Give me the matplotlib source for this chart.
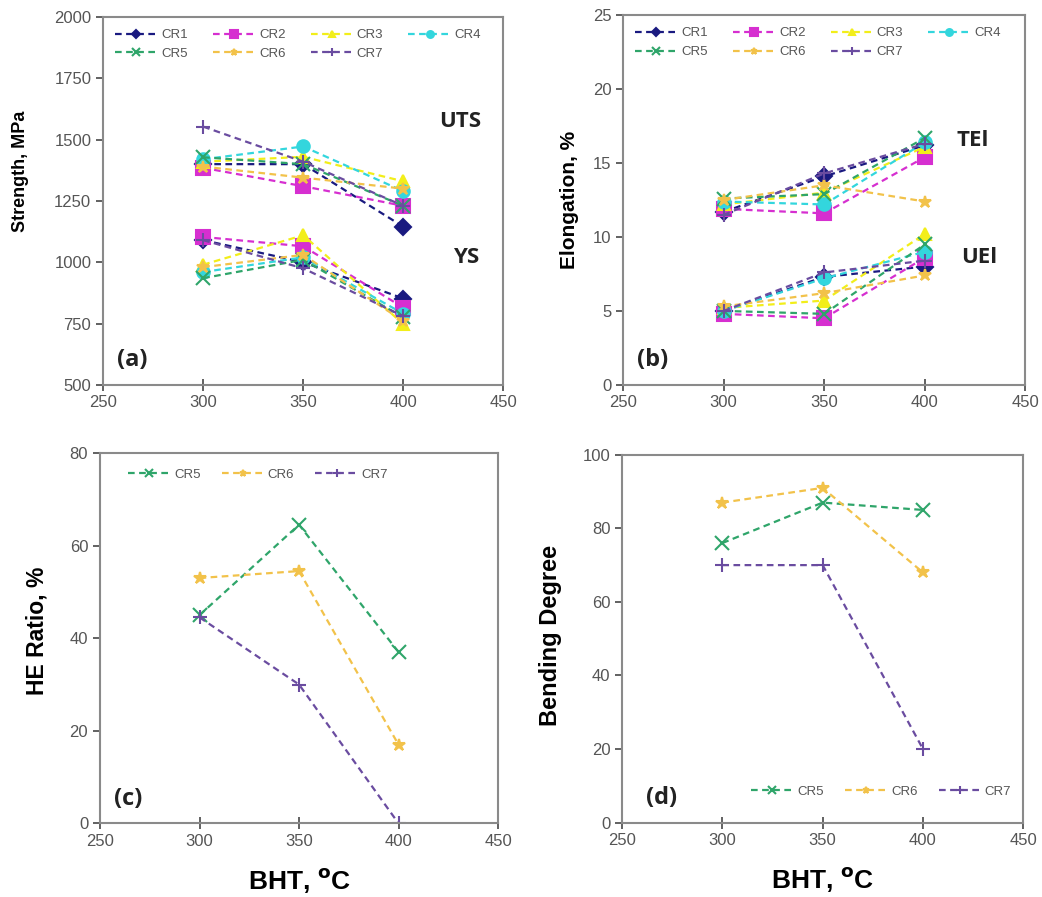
import matplotlib
matplotlib.use("Agg")
import matplotlib.pyplot as plt
import numpy as np

plt.rcParams['font.family'] = ['Liberation Sans', 'DejaVu Sans']

# data ---------------------------------------------------------
bht = [300, 350, 400]
names = ['CR1', 'CR2', 'CR3', 'CR4', 'CR5', 'CR6', 'CR7']

uts = {'CR1': [1400, 1400, 1145],
       'CR2': [1385, 1310, 1230],
       'CR3': [1410, 1430, 1330],
       'CR4': [1420, 1472, 1290],
       'CR5': [1428, 1400, 1230],
       'CR6': [1390, 1345, 1300],
       'CR7': [1553, 1410, 1230]}
ys = {'CR1': [1090, 1000, 852],
      'CR2': [1103, 1065, 815],
      'CR3': [990, 1110, 748],
      'CR4': [960, 1020, 790],
      'CR5': [935, 1010, 775],
      'CR6': [980, 1030, 760],
      'CR7': [1090, 975, 780]}
tel = {'CR1': [11.7, 14.1, 16.2],
       'CR2': [11.9, 11.6, 15.4],
       'CR3': [12.2, 13.0, 16.1],
       'CR4': [12.4, 12.2, 16.4],
       'CR5': [12.6, 12.9, 16.7],
       'CR6': [12.5, 13.5, 12.4],
       'CR7': [11.5, 14.3, 16.3]}
uel = {'CR1': [5.0, 7.3, 8.0],
       'CR2': [4.8, 4.5, 8.6],
       'CR3': [5.2, 5.7, 10.2],
       'CR4': [5.0, 7.2, 9.0],
       'CR5': [5.0, 4.8, 9.5],
       'CR6': [5.3, 6.2, 7.4],
       'CR7': [5.0, 7.6, 8.4]}
he = {'CR5': [45, 64.5, 37],
      'CR6': [53, 54.5, 17],
      'CR7': [44.5, 30, 0]}
bend = {'CR5': [76, 87, 85],
        'CR6': [87, 91, 68],
        'CR7': [70, 70, 20]}

# styles -------------------------------------------------------
colors = {'CR1': '#1a1a80', 'CR2': '#d62fd0', 'CR3': '#f2ee1a', 'CR4': '#33d6dd',
          'CR5': '#2fa56a', 'CR6': '#f2c24a', 'CR7': '#6a4ca0'}
markers = {'CR1': 'D', 'CR2': 's', 'CR3': '^', 'CR4': 'o',
           'CR5': 'x', 'CR6': '*', 'CR7': '+'}
msize = {'CR1': 8, 'CR2': 10, 'CR3': 9, 'CR4': 9, 'CR5': 10, 'CR6': 9, 'CR7': 10}
tick_col = '#555555'
spine_col = '#8a8a8a'
bold_fam = ['Open Sans', 'DejaVu Sans']

fig = plt.figure(figsize=(10.42, 8.97), dpi=100)
ax_a = fig.add_axes([0.099, 0.571, 0.384, 0.410])
ax_b = fig.add_axes([0.598, 0.571, 0.386, 0.412])
ax_c = fig.add_axes([0.096, 0.082, 0.382, 0.413])
ax_d = fig.add_axes([0.597, 0.083, 0.385, 0.410])


def draw(ax, data, keys, label=True):
    for k in keys:
        ax.plot(bht, data[k], color=colors[k], linestyle='--', linewidth=1.6,
                dashes=(3, 2), marker=markers[k], markersize=msize[k],
                markerfacecolor=colors[k], markeredgecolor=colors[k],
                markeredgewidth=1.5, label=k if label else None)


def style(ax, ylim, yticks, ylabel, lsize):
    ax.set_xlim(250, 450)
    ax.set_xticks([250, 300, 350, 400, 450])
    ax.set_ylim(*ylim)
    ax.set_yticks(yticks)
    for s in ax.spines.values():
        s.set_color(spine_col)
        s.set_linewidth(1.5)
    ax.tick_params(colors=tick_col, labelsize=12, length=5, width=1.3,
                   direction='out')
    ax.tick_params(axis='x', direction='inout', length=8)
    ax.set_ylabel(ylabel, fontsize=lsize, fontweight='bold', labelpad=10)


def legend_rows(ax, ncol, **kw):
    # reorder so the legend fills row by row like the original
    h, l = ax.get_legend_handles_labels()
    n = len(h)
    nrow = -(-n // ncol)
    order = []
    for c in range(ncol):
        for r in range(nrow):
            i = r * ncol + c
            if i < n:
                order.append(i)
    ax.legend([h[i] for i in order], [l[i] for i in order], ncol=ncol,
              frameon=False, fontsize=9.5, handlelength=3.2, handletextpad=0.3,
              labelcolor=tick_col, markerscale=0.55, **kw)


# (a) strength
draw(ax_a, uts, names)
draw(ax_a, ys, names, label=False)
style(ax_a, (500, 2000), [500, 750, 1000, 1250, 1500, 1750, 2000], 'Strength, MPa', 13)
ax_a.yaxis.set_label_coords(-0.185, 0.58)
legend_rows(ax_a, 4, loc='upper left', bbox_to_anchor=(0.0, 1.0), columnspacing=1.9)
ax_a.text(0.84, 0.70, 'UTS', transform=ax_a.transAxes, fontsize=16,
          fontweight='bold', family=bold_fam, color='#222222')
ax_a.text(0.875, 0.33, 'YS', transform=ax_a.transAxes, fontsize=16,
          fontweight='bold', family=bold_fam, color='#222222')
ax_a.text(0.035, 0.05, '(a)', transform=ax_a.transAxes, fontsize=17,
          fontweight='bold', family=bold_fam, color='#222222')

# (b) elongation
draw(ax_b, tel, names)
draw(ax_b, uel, names, label=False)
style(ax_b, (0, 25), [0, 5, 10, 15, 20, 25], 'Elongation, %', 15)
legend_rows(ax_b, 4, loc='upper left', bbox_to_anchor=(0.0, 1.0), columnspacing=1.9)
ax_b.text(0.83, 0.645, 'TEl', transform=ax_b.transAxes, fontsize=16,
          fontweight='bold', family=bold_fam, color='#222222')
ax_b.text(0.84, 0.33, 'UEl', transform=ax_b.transAxes, fontsize=16,
          fontweight='bold', family=bold_fam, color='#222222')
ax_b.text(0.035, 0.05, '(b)', transform=ax_b.transAxes, fontsize=17,
          fontweight='bold', family=bold_fam, color='#222222')

# (c) HE ratio
three = ['CR5', 'CR6', 'CR7']
draw(ax_c, he, three)
style(ax_c, (0, 80), [0, 20, 40, 60, 80], 'HE Ratio, %', 16.5)
ax_c.yaxis.set_label_coords(-0.13, 0.52)
legend_rows(ax_c, 3, loc='upper left', bbox_to_anchor=(0.04, 0.99), columnspacing=1.6)
ax_c.text(0.035, 0.05, '(c)', transform=ax_c.transAxes, fontsize=17,
          fontweight='bold', family=bold_fam, color='#222222')
ax_c.set_xlabel(r'BHT, $^{\mathbf{o}}$C', fontsize=19, fontweight='bold', labelpad=12)

# (d) bending degree
draw(ax_d, bend, three)
style(ax_d, (0, 100), [0, 20, 40, 60, 80, 100], 'Bending Degree', 17)
ax_d.yaxis.set_label_coords(-0.15, 0.51)
legend_rows(ax_d, 3, loc='lower right', bbox_to_anchor=(1.0, 0.035), columnspacing=1.6)
ax_d.text(0.06, 0.05, '(d)', transform=ax_d.transAxes, fontsize=17,
          fontweight='bold', family=bold_fam, color='#222222')
ax_d.set_xlabel(r'BHT, $^{\mathbf{o}}$C', fontsize=19, fontweight='bold', labelpad=12)

fig.savefig('out.png', dpi=100)
